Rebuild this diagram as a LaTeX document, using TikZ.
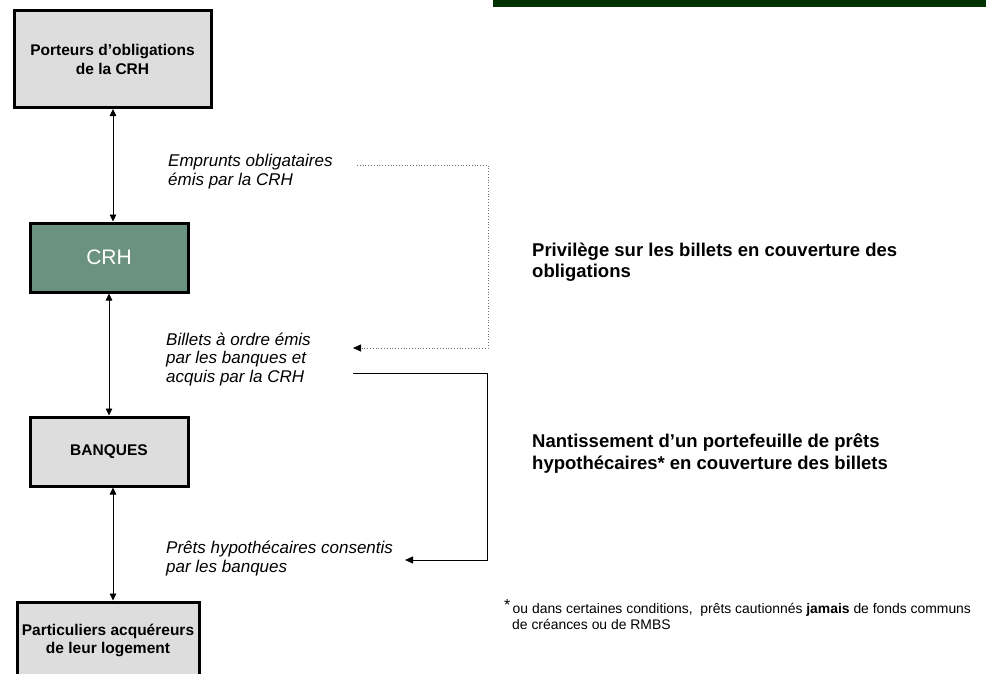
\documentclass[tikz,border=0pt]{standalone}
\usepackage{fontspec}
\setmainfont{Liberation Sans}
\usetikzlibrary{arrows.meta}

\definecolor{boxgrey}{RGB}{221,221,221}
\definecolor{crhgreen}{RGB}{107,146,129}
\definecolor{bargreen}{RGB}{0,51,0}
\definecolor{dotgrey}{RGB}{110,110,110}

\tikzset{
	acteur/.style={draw=black, line width=3pt, fill=boxgrey, align=center, inner sep=0pt,
		font=\fontsize{15.5}{19}\selectfont\bfseries},
	flux/.style={{Triangle[length=7pt,width=6.5pt]}-{Triangle[length=7pt,width=6.5pt]}, line width=0.8pt},
	legende/.style={anchor=base west, align=left, inner sep=0pt,
		font=\fontsize{17}{18.5}\selectfont\itshape},
	garantie/.style={anchor=base west, align=left, inner sep=0pt,
		font=\fontsize{18.5}{21.5}\selectfont\bfseries},
	renvoi/.style={-{Triangle[length=8pt,width=7pt,black,line width=0.8pt]}, line width=0.8pt},
}

\begin{document}
\begin{tikzpicture}[x=1pt, y=-1pt]
	\useasboundingbox (0,0) rectangle (986,673);
	% bandeau
	\fill[bargreen] (493,0) rectangle (986,7);
	% acteurs
	\node[acteur, minimum width=197, minimum height=97] (porteurs) at (112.5,59) {Porteurs d’obligations\\de la CRH};
	\node[acteur, minimum width=158, minimum height=69, fill=crhgreen, text=white,
		font=\fontsize{21}{24}\selectfont] (crh) at (109,257.5) {CRH};
	\node[acteur, minimum width=158, minimum height=69] (banques) at (109,451.5) {BANQUES};
	\node[acteur, minimum width=182, minimum height=76, font=\fontsize{15.5}{18}\selectfont\bfseries] (particuliers) at (108,640) {Particuliers acquéreurs\\de leur logement};
	% flux entre acteurs
	\draw[flux] ([xshift=0.5]porteurs.south) -- ([xshift=0.5]porteurs.south |- crh.north);
	\draw[flux] (crh.south) -- (banques.north);
	\draw[flux] ([xshift=4]banques.south) -- ([xshift=4]banques.south |- particuliers.north);
	% legendes des flux (ancre sur la derniere ligne)
	\node[legende] (emprunts) at (168,185) {Emprunts obligataires\\émis par la CRH};
	\node[legende] (billets) at (166,382) {Billets à ordre émis\\par les banques et\\acquis par la CRH};
	\node[legende] (prets) at (166,572) {Prêts hypothécaires consentis\\par les banques};
	% garanties
	\node[garantie] (privilege) at (532,277.5) {Privilège sur les billets en couverture des\\obligations};
	\node[garantie] (nantissement) at (532,469) {Nantissement d’un portefeuille de prêts\\hypothécaires* en couverture des billets};
	\node[anchor=base west, align=left, inner sep=0pt, font=\fontsize{13.9}{16}\selectfont] (note) at (504,629)
		{\raisebox{3pt}{\fontsize{16}{16}\selectfont *}\,ou dans certaines conditions,\ \ prêts cautionnés \textbf{jamais} de fonds communs\\\hspace*{8pt}de créances ou de RMBS};
	% renvois
	\coordinate (privdep) at (357,165);
	\coordinate (privcoin) at (488,165);
	\coordinate (privarr) at (353,348);
	\coordinate (nantdep) at (353,373);
	\coordinate (nantcoin) at (487,373);
	\coordinate (nantarr) at (405,560);
	\draw[renvoi, dotgrey, dotted] (privdep) -- (privcoin) |- (privarr);
	\draw[renvoi] (nantdep) -- (nantcoin) |- (nantarr);
\end{tikzpicture}
\end{document}
